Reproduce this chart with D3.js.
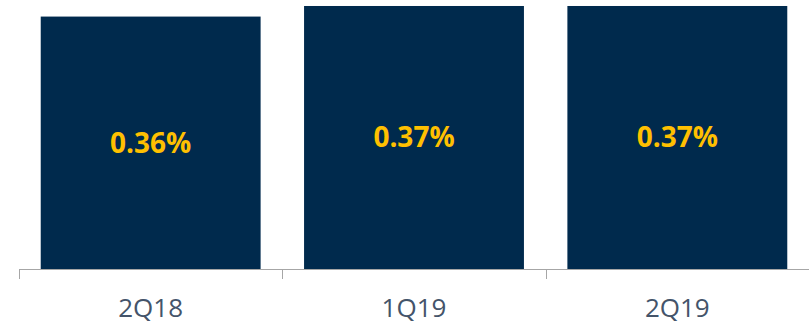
<!DOCTYPE html>
<html>
<head>
<meta charset="utf-8">
<script src="https://cdn.jsdelivr.net/npm/d3@7"></script>
<style>
  body { margin: 0; background: #fff; }
  svg { display: block; }
</style>
</head>
<body>
<svg width="809" height="325"></svg>
<script>
const quarters = ['2Q18', '1Q19', '2Q19'];
const ratios = [0.358, 0.373, 0.373];
const ratioLabels = ['0.36%', '0.37%', '0.37%'];

const svg = d3.select('svg');
const baseY = 269;

const x = d3.scaleBand()
  .domain(quarters)
  .range([19, 809])
  .paddingInner(0.165)
  .paddingOuter(0.0825);

const y = d3.scaleLinear()
  .domain([0, 0.3815])
  .range([baseY, 0]);

svg.selectAll('rect.bar')
  .data(quarters)
  .join('rect')
  .attr('class', 'bar')
  .attr('x', d => x(d))
  .attr('y', (d, i) => y(ratios[i]))
  .attr('width', x.bandwidth())
  .attr('height', (d, i) => baseY - y(ratios[i]))
  .attr('fill', '#002A4D');

svg.selectAll('text.val')
  .data(quarters)
  .join('text')
  .attr('class', 'val')
  .attr('x', d => x(d) + x.bandwidth() / 2)
  .attr('y', (d, i) => (y(ratios[i]) + baseY) / 2 + 10)
  .attr('text-anchor', 'middle')
  .style('font-family', '"Open Sans", sans-serif')
  .style('font-weight', 'bold')
  .style('font-size', '28px')
  .attr('fill', '#FFC000')
  .text((d, i) => ratioLabels[i]);

// axis: baseline with ticks at band edges
const axis = svg.append('g').attr('stroke', '#A6A6A6').attr('stroke-width', 1);
axis.append('line')
  .attr('x1', 19).attr('x2', 809)
  .attr('y1', baseY + 0.5).attr('y2', baseY + 0.5);

const edges = quarters.map(d => x(d) - x.step() * x.paddingInner() / 2);
edges.push(809 - 0.5);
axis.selectAll('line.tick')
  .data(edges)
  .join('line')
  .attr('class', 'tick')
  .attr('x1', d => Math.round(d) + 0.5)
  .attr('x2', d => Math.round(d) + 0.5)
  .attr('y1', baseY)
  .attr('y2', baseY + 10);

svg.selectAll('text.cat')
  .data(quarters)
  .join('text')
  .attr('class', 'cat')
  .attr('x', d => x(d) + x.bandwidth() / 2)
  .attr('y', 317)
  .attr('text-anchor', 'middle')
  .style('font-family', '"Open Sans", sans-serif')
  .style('font-size', '26px')
  .attr('fill', '#44546A')
  .text(d => d);
</script>
</body>
</html>
